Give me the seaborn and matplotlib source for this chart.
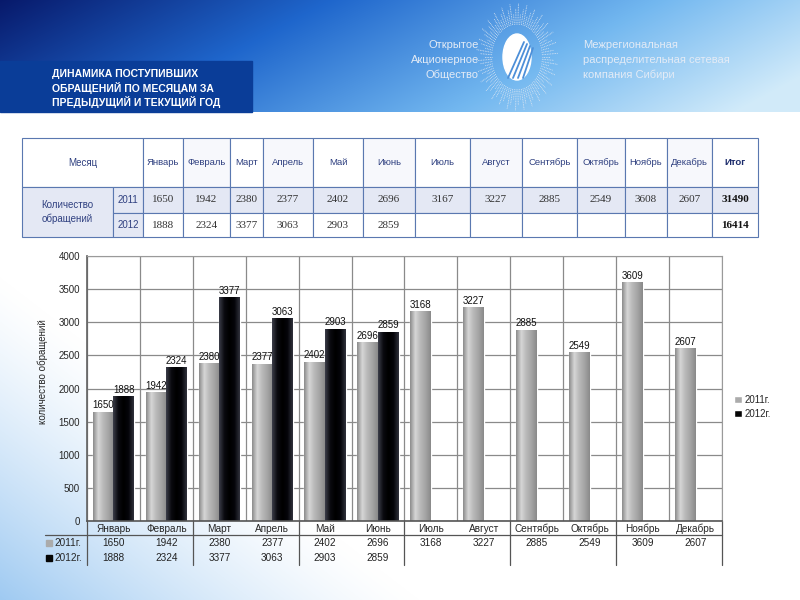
import numpy as np
import pandas as pd
import matplotlib
matplotlib.use('Agg')
import matplotlib.pyplot as plt
from matplotlib.patches import Rectangle, Ellipse
from matplotlib.colors import LinearSegmentedColormap
import seaborn as sns

# ---- data ----
months = ['Январь', 'Февраль', 'Март', 'Апрель', 'Май', 'Июнь',
          'Июль', 'Август', 'Сентябрь', 'Октябрь', 'Ноябрь', 'Декабрь']
years = ['2011г.', '2012г.']
table_2011 = [1650, 1942, 2380, 2377, 2402, 2696, 3167, 3227, 2885, 2549, 3608, 2607]
table_2012 = [1888, 2324, 3377, 3063, 2903, 2859]
total_2011 = 31490
total_2012 = 16414
chart_2011 = [1650, 1942, 2380, 2377, 2402, 2696, 3168, 3227, 2885, 2549, 3609, 2607]
chart_2012 = [1888, 2324, 3377, 3063, 2903, 2859]
yticks = [0, 500, 1000, 1500, 2000, 2500, 3000, 3500, 4000]

title_lines = ['ДИНАМИКА ПОСТУПИВШИХ', 'ОБРАЩЕНИЙ ПО МЕСЯЦАМ ЗА', 'ПРЕДЫДУЩИЙ И ТЕКУЩИЙ ГОД']
logo_left = ['Открытое', 'Акционерное', 'Общество']
logo_right = ['Межрегиональная', 'распределительная сетевая', 'компания Сибири']

rows = []
for m, v in zip(months, chart_2011):
    rows.append({'month': m, 'year': years[0], 'value': v})
for m, v in zip(months, chart_2012):
    rows.append({'month': m, 'year': years[1], 'value': v})
df = pd.DataFrame(rows)

sns.set_theme(style='white')
plt.rcParams['font.family'] = ['Liberation Sans', 'DejaVu Sans']

fig = plt.figure(figsize=(8, 6), dpi=100)

# ---- slide background in pixel coords ----
bg = fig.add_axes([0, 0, 1, 1], zorder=0)
bg.set_xlim(0, 800)
bg.set_ylim(600, 0)
bg.axis('off')

H, W = 600, 800
yy, xx = np.mgrid[0:H, 0:W].astype(float)
img = np.ones((H, W, 3))
t = np.clip(xx / 800 * 0.85 + yy / 112 * 0.22, 0, 1)
stops = [0, 0.35, 0.7, 1.0]
cols = np.array([[0.03, 0.10, 0.42], [0.12, 0.40, 0.80], [0.45, 0.72, 0.94], [0.82, 0.92, 0.98]])
head = np.stack([np.interp(t, stops, cols[:, c]) for c in range(3)], axis=-1)
mask = yy < 112
img[mask] = head[mask]
d = xx + (H - yy) * 1.3
a = np.clip(1 - d / 420, 0, 1) ** 1.3 * 0.65
a[mask] = 0
blue = np.array([0.42, 0.68, 0.92])
img = img * (1 - a[..., None]) + blue * a[..., None]
bg.imshow(img, extent=(0, 800, 600, 0), aspect='auto', zorder=0)

# title box
bg.add_patch(Rectangle((0, 61), 252, 51, color='#0a3d98', zorder=1))
for i, line in enumerate(title_lines):
    bg.text(52, 74 + i * 14, line, color='white', fontsize=7.5, fontweight='bold',
            va='center', ha='left', zorder=2)

# logo
ang = np.linspace(0, 2 * np.pi, 90, endpoint=False)
for k, an in enumerate(ang):
    r0, r1 = 25, 33 + (k % 3) * 4
    bg.plot([517 + r0 * np.cos(an), 517 + r1 * np.cos(an)],
            [57 + r0 * 1.3 * np.sin(an), 57 + r1 * 1.3 * np.sin(an)],
            color='#dfe8f3', lw=0.6, ls=(0, (1, 1)), zorder=2)
bg.add_patch(Ellipse((517, 57), 28, 46, color='white', zorder=3))
for k in range(4):
    xs = np.linspace(508 + k * 5, 524 + k * 3, 10)
    ys = np.linspace(78, 42 + k * 2, 10)
    bg.plot(xs, ys, color='#4d8fd8', lw=1.3, zorder=4)
for i, line in enumerate(logo_left):
    bg.text(479, 45 + i * 15, line, color='#e3ebf6', fontsize=8, ha='right', va='center', zorder=2)
for i, line in enumerate(logo_right):
    bg.text(583, 45 + i * 15, line, color='#e3ebf6', fontsize=8, ha='left', va='center', zorder=2)

# ---- top table ----
col_x = [22, 113, 143, 183, 230, 263, 313, 363, 415, 470, 522, 577, 625, 667, 712, 758]
row_y = [138, 187, 213, 237]
edge = '#5a78b0'
lav = '#e4e8f4'
txt_blue = '#2f4080'
num_col = '#333333'

# header row
bg.add_patch(Rectangle((col_x[0], row_y[0]), col_x[2] - col_x[0], row_y[1] - row_y[0],
                       facecolor='white', edgecolor=edge, lw=0.8, zorder=2))
bg.text((col_x[0] + col_x[2]) / 2, (row_y[0] + row_y[1]) / 2, 'Месяц',
        color=txt_blue, fontsize=7, ha='center', va='center', zorder=3)
for j, m in enumerate(months + ['Итог']):
    x0, x1 = col_x[j + 2], col_x[j + 3]
    bg.add_patch(Rectangle((x0, row_y[0]), x1 - x0, row_y[1] - row_y[0],
                           facecolor='#f7f8fc' if j % 2 else 'white', edgecolor=edge, lw=0.8, zorder=2))
    bg.text((x0 + x1) / 2, (row_y[0] + row_y[1]) / 2, m, color=txt_blue if m != 'Итог' else '#1a2a6a',
            fontsize=6.8, ha='center', va='center', zorder=3,
            fontweight='bold' if m == 'Итог' else 'normal')

# label cell spanning both rows
bg.add_patch(Rectangle((col_x[0], row_y[1]), col_x[1] - col_x[0], row_y[3] - row_y[1],
                       facecolor=lav, edgecolor=edge, lw=0.8, zorder=2))
bg.text((col_x[0] + col_x[1]) / 2, (row_y[1] + row_y[3]) / 2, 'Количество\nобращений',
        color=txt_blue, fontsize=7, ha='center', va='center', linespacing=1.4, zorder=3)

for r, (yr, vals, tot) in enumerate([('2011', table_2011, total_2011), ('2012', table_2012, total_2012)]):
    y0, y1 = row_y[r + 1], row_y[r + 2]
    yc = (y0 + y1) / 2
    bg.add_patch(Rectangle((col_x[1], y0), col_x[2] - col_x[1], y1 - y0,
                           facecolor=lav, edgecolor=edge, lw=0.8, zorder=2))
    bg.text((col_x[1] + col_x[2]) / 2, yc, yr, color=txt_blue, fontsize=7,
            ha='center', va='center', zorder=3)
    for j in range(13):
        x0, x1 = col_x[j + 2], col_x[j + 3]
        bg.add_patch(Rectangle((x0, y0), x1 - x0, y1 - y0,
                               facecolor=lav if r == 0 else 'white', edgecolor=edge, lw=0.8, zorder=2))
        if j < 12 and j < len(vals):
            bg.text((x0 + x1) / 2, yc, str(vals[j]), color=num_col, fontsize=8,
                    family='Liberation Serif', ha='center', va='center', zorder=3)
        elif j == 12:
            bg.text((x0 + x1) / 2, yc, str(tot), color='#111111', fontsize=8, fontweight='bold',
                    family='Liberation Serif', ha='center', va='center', zorder=3)

# ---- chart ----
px0, px1, py_top, py_bot = 87, 722, 256, 521
ax = fig.add_axes([px0 / 800, (600 - py_bot) / 600, (px1 - px0) / 800, (py_bot - py_top) / 600], zorder=2)
ax.set_facecolor('white')
sns.barplot(data=df, x='month', y='value', hue='year', order=months, hue_order=years,
            palette={'2011г.': '#ababab', '2012г.': '#050505'}, saturation=1,
            width=0.78, ax=ax, legend=True)

gray_cmap = LinearSegmentedColormap.from_list('g', ['#8c8c8c', '#d6d6d6', '#b8b8b8', '#a4a4a4', '#8a8a8a'])
black_cmap = LinearSegmentedColormap.from_list('b', ['#3b3d48', '#0a0a0f', '#000000', '#05050a', '#30323c'])
grad = np.linspace(0, 1, 64).reshape(1, -1)
for cont, cmap in zip(ax.containers, [gray_cmap, black_cmap]):
    for p in cont.patches:
        x0, y0, w, h = p.get_x(), p.get_y(), p.get_width(), p.get_height()
        if np.isnan(h) or h == 0:
            continue
        im = ax.imshow(grad, extent=[x0, x0 + w, y0, y0 + h], aspect='auto', cmap=cmap,
                       origin='lower', zorder=p.get_zorder() + 0.1)
        im.set_clip_path(p)
    ax.bar_label(cont, fmt='%d', fontsize=7, padding=1, color='#111111')

ax.set_xlim(-0.5, 11.5)
ax.set_ylim(0, 4000)
ax.set_yticks(yticks)
ax.set_yticklabels([str(v) for v in yticks], fontsize=7)
ax.set_xticks(np.arange(-0.5, 12, 1))
ax.set_xticklabels([])
ax.tick_params(axis='x', length=0)
ax.tick_params(axis='y', length=3, color='#777777', pad=2)
ax.set_axisbelow(True)
ax.grid(True, color='#8a8a8a', lw=0.9)
ax.set_xlabel('')
ax.set_ylabel('')
for s in ['top', 'right']:
    ax.spines[s].set_color('#9a9a9a')
    ax.spines[s].set_linewidth(0.8)
ax.spines['left'].set_color('#666666')
ax.spines['bottom'].set_color('#555555')
ax.spines['bottom'].set_linewidth(1.2)

bg.text(43, 372, 'количество обращений', rotation=90, fontsize=7, ha='center', va='center', zorder=3)

handles, labels = ax.get_legend_handles_labels()
ax.legend(handles, labels, loc='center left', bbox_to_anchor=(1.005, 0.43), frameon=False,
          fontsize=7, handlelength=0.8, handleheight=0.8, handletextpad=0.3, labelspacing=0.4)

# ---- data table under chart ----
def ay(py):
    return (py_bot - py) / (py_bot - py_top)

xt = ax.get_xaxis_transform()
for b in np.arange(-0.5, 12, 2):
    ax.plot([b, b], [ay(521), ay(565)], transform=xt, color='#555555', lw=0.9, clip_on=False)
bg.plot([45, px1], [535, 535], color='#555555', lw=0.9, zorder=3)
for i, m in enumerate(months):
    ax.text(i, ay(529), m, transform=xt, fontsize=7.2, ha='center', va='center', clip_on=False)
    ax.text(i, ay(543), str(chart_2011[i]), transform=xt, fontsize=7.2, ha='center', va='center',
            clip_on=False, color='#222222')
    if i < len(chart_2012):
        ax.text(i, ay(558), str(chart_2012[i]), transform=xt, fontsize=7.2, ha='center', va='center',
                clip_on=False, color='#222222')
bg.add_patch(Rectangle((46, 539.5), 6, 6, color='#ababab', zorder=3))
bg.add_patch(Rectangle((46, 554.5), 6, 6, color='#050505', zorder=3))
bg.text(54, 543, years[0], fontsize=7.2, ha='left', va='center', zorder=3)
bg.text(54, 558, years[1], fontsize=7.2, ha='left', va='center', zorder=3)

fig.savefig('out.png', dpi=100)
